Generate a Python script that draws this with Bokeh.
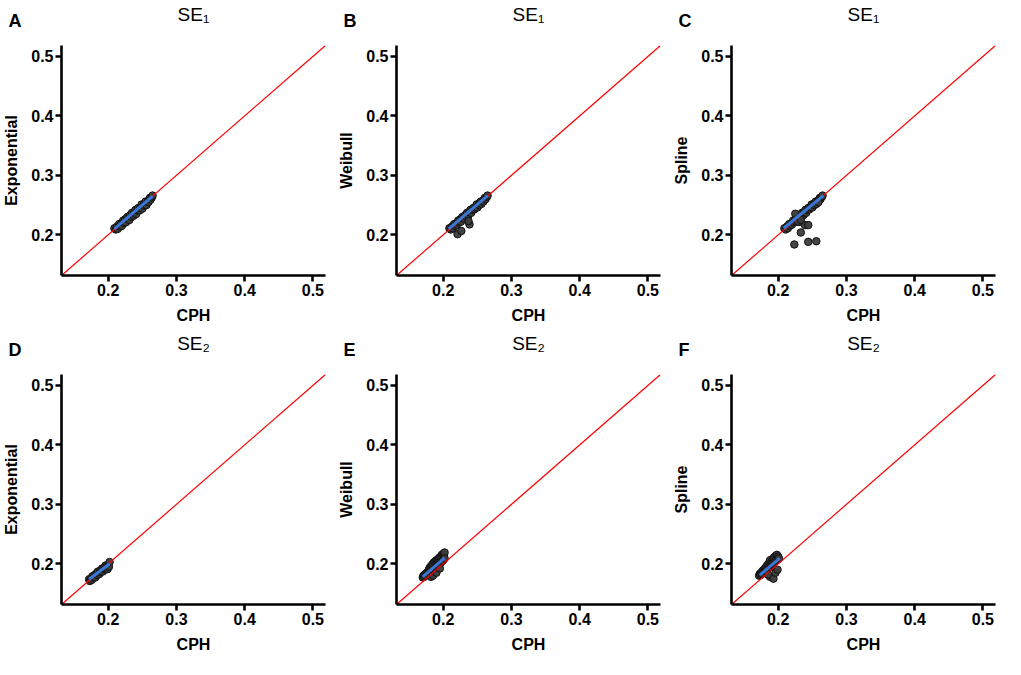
from bokeh.plotting import figure
from bokeh.layouts import gridplot
from bokeh.models import Range1d, Label
from bokeh.embed import file_html
from bokeh.resources import INLINE

FONT = "Liberation Sans"
AXIS_MIN, AXIS_MAX = 0.1315, 0.5185
TICKS = [0.2, 0.3, 0.4, 0.5]
identity = [AXIS_MIN, AXIS_MAX]

# ---- Panel A: SE1, CPH vs Exponential ----
A_cph = [0.209, 0.211, 0.213, 0.214, 0.216, 0.217, 0.219, 0.220, 0.222, 0.223, 0.225, 0.226, 0.228,
         0.229, 0.231, 0.232, 0.234, 0.235, 0.237, 0.238, 0.240, 0.241, 0.243, 0.244, 0.246, 0.247,
         0.249, 0.250, 0.252, 0.253, 0.255, 0.256, 0.258, 0.259, 0.261, 0.262, 0.264, 0.265]
A_mod = [0.211, 0.209, 0.214, 0.210, 0.218, 0.214, 0.219, 0.215, 0.224, 0.220, 0.226, 0.221, 0.230,
         0.227, 0.225, 0.233, 0.230, 0.237, 0.232, 0.237, 0.242, 0.235, 0.241, 0.245, 0.241, 0.245,
         0.251, 0.244, 0.251, 0.249, 0.256, 0.250, 0.256, 0.255, 0.262, 0.259, 0.263, 0.266]
A_fit_x = [0.209, 0.265]
A_fit_y = [0.210, 0.265]

# ---- Panel B: SE1, CPH vs Weibull ----
B_cph = A_cph + [0.221, 0.2265, 0.2385, 0.237]
B_mod = [0.211, 0.209, 0.214, 0.211, 0.218, 0.215, 0.219, 0.217, 0.224, 0.221, 0.226, 0.222, 0.230,
         0.228, 0.227, 0.233, 0.231, 0.237, 0.233, 0.238, 0.242, 0.237, 0.242, 0.245, 0.243, 0.246,
         0.251, 0.246, 0.252, 0.250, 0.256, 0.252, 0.257, 0.256, 0.262, 0.260, 0.264, 0.266] + \
        [0.201, 0.2065, 0.2175, 0.223]
B_fit_x = [0.208, 0.265]
B_fit_y = [0.210, 0.266]

# ---- Panel C: SE1, CPH vs Spline ----
C_cph = A_cph + [0.2236, 0.244, 0.2558, 0.2331, 0.2392, 0.244, 0.225, 0.2307, 0.229, 0.233, 0.259]
C_mod = [0.211, 0.209, 0.214, 0.211, 0.218, 0.215, 0.219, 0.217, 0.224, 0.221, 0.226, 0.222, 0.230,
         0.228, 0.227, 0.233, 0.231, 0.237, 0.233, 0.238, 0.242, 0.237, 0.242, 0.245, 0.243, 0.246,
         0.251, 0.246, 0.252, 0.250, 0.256, 0.252, 0.257, 0.256, 0.262, 0.260, 0.264, 0.266] + \
        [0.1837, 0.1881, 0.1891, 0.2038, 0.2163, 0.2163, 0.2354, 0.2217, 0.222, 0.225, 0.255]
C_fit_x = [0.208, 0.266]
C_fit_y = [0.211, 0.266]

# ---- Panel D: SE2, CPH vs Exponential ----
D_cph = [0.172, 0.173, 0.175, 0.176, 0.177, 0.179, 0.180, 0.181, 0.183, 0.184, 0.185, 0.187, 0.188,
         0.189, 0.191, 0.192, 0.193, 0.195, 0.196, 0.197, 0.198, 0.199, 0.200, 0.201, 0.202]
D_mod = [0.174, 0.171, 0.176, 0.173, 0.179, 0.177, 0.181, 0.177, 0.184, 0.181, 0.187, 0.183, 0.188,
         0.186, 0.192, 0.187, 0.192, 0.191, 0.197, 0.191, 0.196, 0.191, 0.197, 0.195, 0.203]
D_fit_x = [0.172, 0.202]
D_fit_y = [0.174, 0.200]

# ---- Panel E: SE2, CPH vs Weibull ----
E_cph = [0.170, 0.171, 0.172, 0.173, 0.174, 0.175, 0.176, 0.177, 0.178, 0.179, 0.180, 0.180, 0.181,
         0.182, 0.182, 0.183, 0.184, 0.184, 0.185, 0.186, 0.186, 0.187, 0.188, 0.188, 0.189, 0.190,
         0.190, 0.191, 0.192, 0.192, 0.193, 0.194, 0.194, 0.195, 0.196, 0.196, 0.197, 0.198, 0.198,
         0.199, 0.200, 0.200, 0.201, 0.202, 0.202, 0.185, 0.190, 0.195]
E_mod = [0.177, 0.180, 0.178, 0.182, 0.180, 0.184, 0.181, 0.186, 0.183, 0.190, 0.185, 0.193, 0.188,
         0.196, 0.178, 0.191, 0.199, 0.186, 0.194, 0.202, 0.189, 0.197, 0.204, 0.192, 0.200, 0.206,
         0.195, 0.202, 0.198, 0.207, 0.203, 0.200, 0.210, 0.205, 0.212, 0.201, 0.208, 0.215, 0.204,
         0.211, 0.217, 0.206, 0.213, 0.219, 0.209, 0.180, 0.185, 0.192]
E_fit_x = [0.170, 0.202]
E_fit_y = [0.178, 0.210]

# ---- Panel F: SE2, CPH vs Spline ----
F_cph = [0.172, 0.173, 0.174, 0.175, 0.176, 0.177, 0.178, 0.179, 0.180, 0.181, 0.182, 0.183, 0.184,
         0.185, 0.186, 0.187, 0.188, 0.188, 0.189, 0.190, 0.191, 0.192, 0.193, 0.194, 0.195, 0.196,
         0.197, 0.198, 0.199, 0.200, 0.201, 0.188, 0.193, 0.196, 0.199, 0.185]
F_mod = [0.180, 0.183, 0.181, 0.185, 0.183, 0.188, 0.185, 0.190, 0.187, 0.193, 0.189, 0.196, 0.191,
         0.199, 0.193, 0.202, 0.195, 0.206, 0.198, 0.203, 0.200, 0.208, 0.202, 0.211, 0.204, 0.213,
         0.206, 0.215, 0.207, 0.212, 0.209, 0.178, 0.175, 0.185, 0.190, 0.182]
F_fit_x = [0.173, 0.202]
F_fit_y = [0.181, 0.209]

panels = [
    ("A", "SE\u2081", "Exponential", A_cph, A_mod, A_fit_x, A_fit_y),
    ("B", "SE\u2081", "Weibull", B_cph, B_mod, B_fit_x, B_fit_y),
    ("C", "SE\u2081", "Spline", C_cph, C_mod, C_fit_x, C_fit_y),
    ("D", "SE\u2082", "Exponential", D_cph, D_mod, D_fit_x, D_fit_y),
    ("E", "SE\u2082", "Weibull", E_cph, E_mod, E_fit_x, E_fit_y),
    ("F", "SE\u2082", "Spline", F_cph, F_mod, F_fit_x, F_fit_y),
]


def make_panel(letter, title, ylabel, xs, ys, fx, fy):
    p = figure(width=335, height=329,
               x_range=Range1d(AXIS_MIN, AXIS_MAX), y_range=Range1d(AXIS_MIN, AXIS_MAX),
               output_backend="svg", toolbar_location=None,
               min_border_left=57, min_border_right=10, min_border_top=42, min_border_bottom=54)
    p.outline_line_color = None
    p.xgrid.grid_line_color = None
    p.ygrid.grid_line_color = None
    p.background_fill_color = "white"
    p.border_fill_color = "white"

    p.title.text = title
    p.title.align = "center"
    p.title.text_font = FONT
    p.title.text_font_size = "19px"
    p.title.text_font_style = "normal"
    p.title.text_color = "black"
    p.title.standoff = 2

    for ax in (p.xaxis, p.yaxis):
        ax.ticker = TICKS
        ax.axis_line_width = 2.6
        ax.axis_line_color = "black"
        ax.major_tick_line_width = 2.6
        ax.major_tick_line_color = "black"
        ax.major_tick_out = 6
        ax.major_tick_in = 0
        ax.minor_tick_line_color = None
        ax.major_label_text_font = FONT
        ax.major_label_text_font_size = "16px"
        ax.major_label_text_font_style = "bold"
        ax.major_label_text_color = "black"
        ax.major_label_standoff = 2
        ax.axis_label_text_font = FONT
        ax.axis_label_text_font_size = "16px"
        ax.axis_label_text_font_style = "bold"
        ax.axis_label_text_color = "black"
        ax.axis_label_standoff = 8
    p.xaxis.axis_label = "CPH"
    p.yaxis.axis_label = ylabel

    p.scatter(xs, ys, size=7.5, fill_color="#3c3c3c", fill_alpha=0.95,
              line_color="#111111", line_width=1)
    p.line(identity, identity, line_color="#ff0000", line_width=1.2)
    p.line(fx, fy, line_color="#3a78d8", line_width=3)

    p.add_layout(Label(x=-53, y=25, x_units="screen", y_units="screen", text=letter,
                       text_font=FONT, text_font_size="18px", text_font_style="bold",
                       text_color="black", text_baseline="alphabetic", text_align="left"),
                 "above")
    return p


figs = [make_panel(*pp) for pp in panels]
grid = gridplot([figs[0:3], figs[3:6]], toolbar_location=None)

open("out.html", "w").write(file_html(grid, INLINE))
